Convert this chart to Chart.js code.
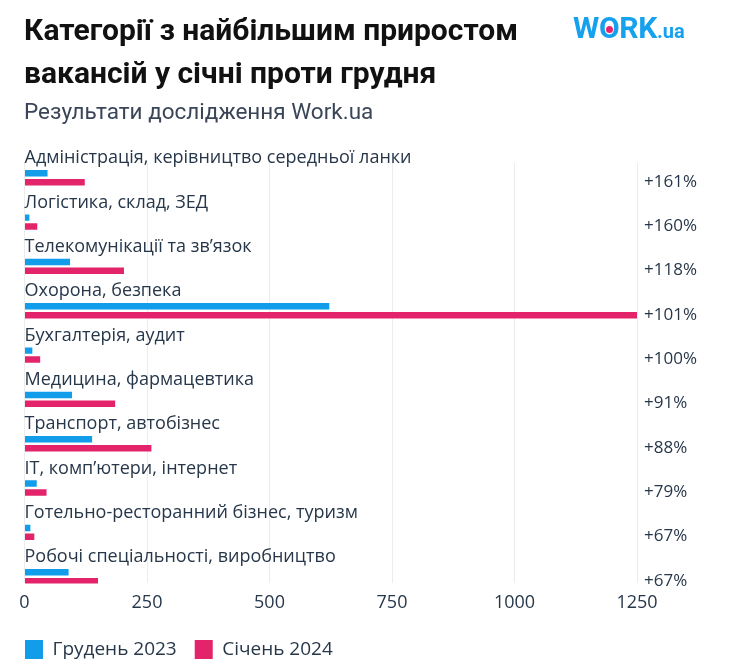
<!DOCTYPE html>
<html>
<head>
<meta charset="utf-8">
<script src="https://cdn.jsdelivr.net/npm/chart.js@4.4.1/dist/chart.umd.min.js"></script>
<style>
  html, body { margin: 0; padding: 0; background: #fff; width: 740px; height: 669px; overflow: hidden; }
  #wrap { position: relative; width: 740px; height: 669px; }
  #box { position: absolute; left: 0; top: 0; width: 740px; height: 669px; }
  .title { position: absolute; left: 24px; top: 8px; font: 700 30px Roboto, sans-serif; color: #111; line-height: 43px; white-space: nowrap; }
  .sub { position: absolute; left: 24px; top: 98px; font: 400 22.5px Roboto, sans-serif; color: #3a4658; line-height: 26px; white-space: nowrap; }
  .logo { position: absolute; left: 573px; top: 10px; white-space: nowrap; color: #16a1ef; font-family: Roboto, sans-serif; }
  .logo .w { font-weight: 700; font-size: 30px; letter-spacing: -0.3px; }
  .logo .o { position: relative; display: inline-block; }
  .logo .o i { position: absolute; left: 50%; top: 50%; width: 7px; height: 7px; margin: -2px 0 0 -3.5px; border-radius: 50%; background: #e8246a; }
  .logo .ua { font-weight: 700; font-size: 20px; }
</style>
</head>
<body>
<div id="wrap">
  <div id="box"><canvas id="c"></canvas></div>
  <div class="title">Категорії з найбільшим приростом<br>вакансій у січні проти грудня</div>
  <div class="sub">Результати дослідження Work.ua</div>
  <div class="logo"><span class="w">W<span class="o">O<i></i></span>RK</span><span class="ua">.ua</span></div>
</div>
<script>
const categories = [
  'Адміністрація, керівництво середньої ланки',
  'Логістика, склад, ЗЕД',
  'Телекомунікації та зв’язок',
  'Охорона, безпека',
  'Бухгалтерія, аудит',
  'Медицина, фармацевтика',
  'Транспорт, автобізнес',
  'IT, комп’ютери, інтернет',
  'Готельно-ресторанний бізнес, туризм',
  'Робочі спеціальності, виробництво'
];
const seriesNames = ['Грудень 2023', 'Січень 2024'];
const dec2023 = [47, 10, 93, 622, 16, 97, 138, 25, 12, 90];
const jan2024 = [123, 26, 203, 1250, 32, 185, 259, 45, 20, 150];
const growthLabels = ['+161%', '+160%', '+118%', '+101%', '+100%', '+91%', '+88%', '+79%', '+67%', '+67%'];
const xTickValues = [0, 250, 500, 750, 1000, 1250];

const TEXT = '#27374a';
const FONT = '"Open Sans", sans-serif';

const rowLabels = {
  id: 'rowLabels',
  afterDatasetsDraw(chart) {
    const { ctx, scales: { x, y } } = chart;
    ctx.save();
    ctx.fillStyle = TEXT;
    ctx.textBaseline = 'middle';
    ctx.textAlign = 'left';
    categories.forEach((c, i) => {
      const py = y.getPixelForValue(i);
      ctx.font = '18px ' + FONT;
      ctx.fillText(c, x.left, py - 19.4);
      ctx.font = '17px ' + FONT;
      ctx.fillText(growthLabels[i], x.right + 7, py + 4);
    });
    ctx.restore();
  }
};

new Chart(document.getElementById('c'), {
  type: 'bar',
  data: {
    datasets: [
      { label: seriesNames[0], data: dec2023.map((v, i) => ({ x: v, y: i })), backgroundColor: '#119de9', borderWidth: 0 },
      { label: seriesNames[1], data: jan2024.map((v, i) => ({ x: v, y: i })), backgroundColor: '#e4246a', borderWidth: 0 }
    ]
  },
  options: {
    indexAxis: 'y',
    responsive: true,
    maintainAspectRatio: false,
    animation: false,
    categoryPercentage: 0.40,
    barPercentage: 0.73,
    layout: { padding: { left: 7, right: 103, top: 163, bottom: 0 } },
    scales: {
      x: {
        type: 'linear',
        min: 0, max: 1250,
        afterBuildTicks: (s) => { s.ticks = xTickValues.map(v => ({ value: v })); },
        grid: { color: '#ececec', lineWidth: 1, drawTicks: false },
        border: { display: false },
        ticks: { color: TEXT, font: { family: '"Open Sans"', size: 18 }, padding: 8.5, maxRotation: 0, callback: (v) => String(v) }
      },
      y: {
        type: 'linear',
        reverse: true,
        offset: false,
        min: -0.332, max: 9.151,
        afterBuildTicks: (s) => { s.ticks = [{ value: s.min }, { value: s.max }]; },
        afterFit: (s) => { s.width = 17.5; },
        grid: { display: false },
        border: { display: false },
        ticks: { display: false }
      }
    },
    plugins: {
      legend: {
        position: 'bottom',
        align: 'start',
        labels: {
          boxWidth: 18, boxHeight: 19, padding: 18,
          color: TEXT,
          font: { family: '"Open Sans"', size: 19 }
        }
      },
      tooltip: { enabled: false }
    }
  },
  plugins: [rowLabels]
});
</script>
</body>
</html>
